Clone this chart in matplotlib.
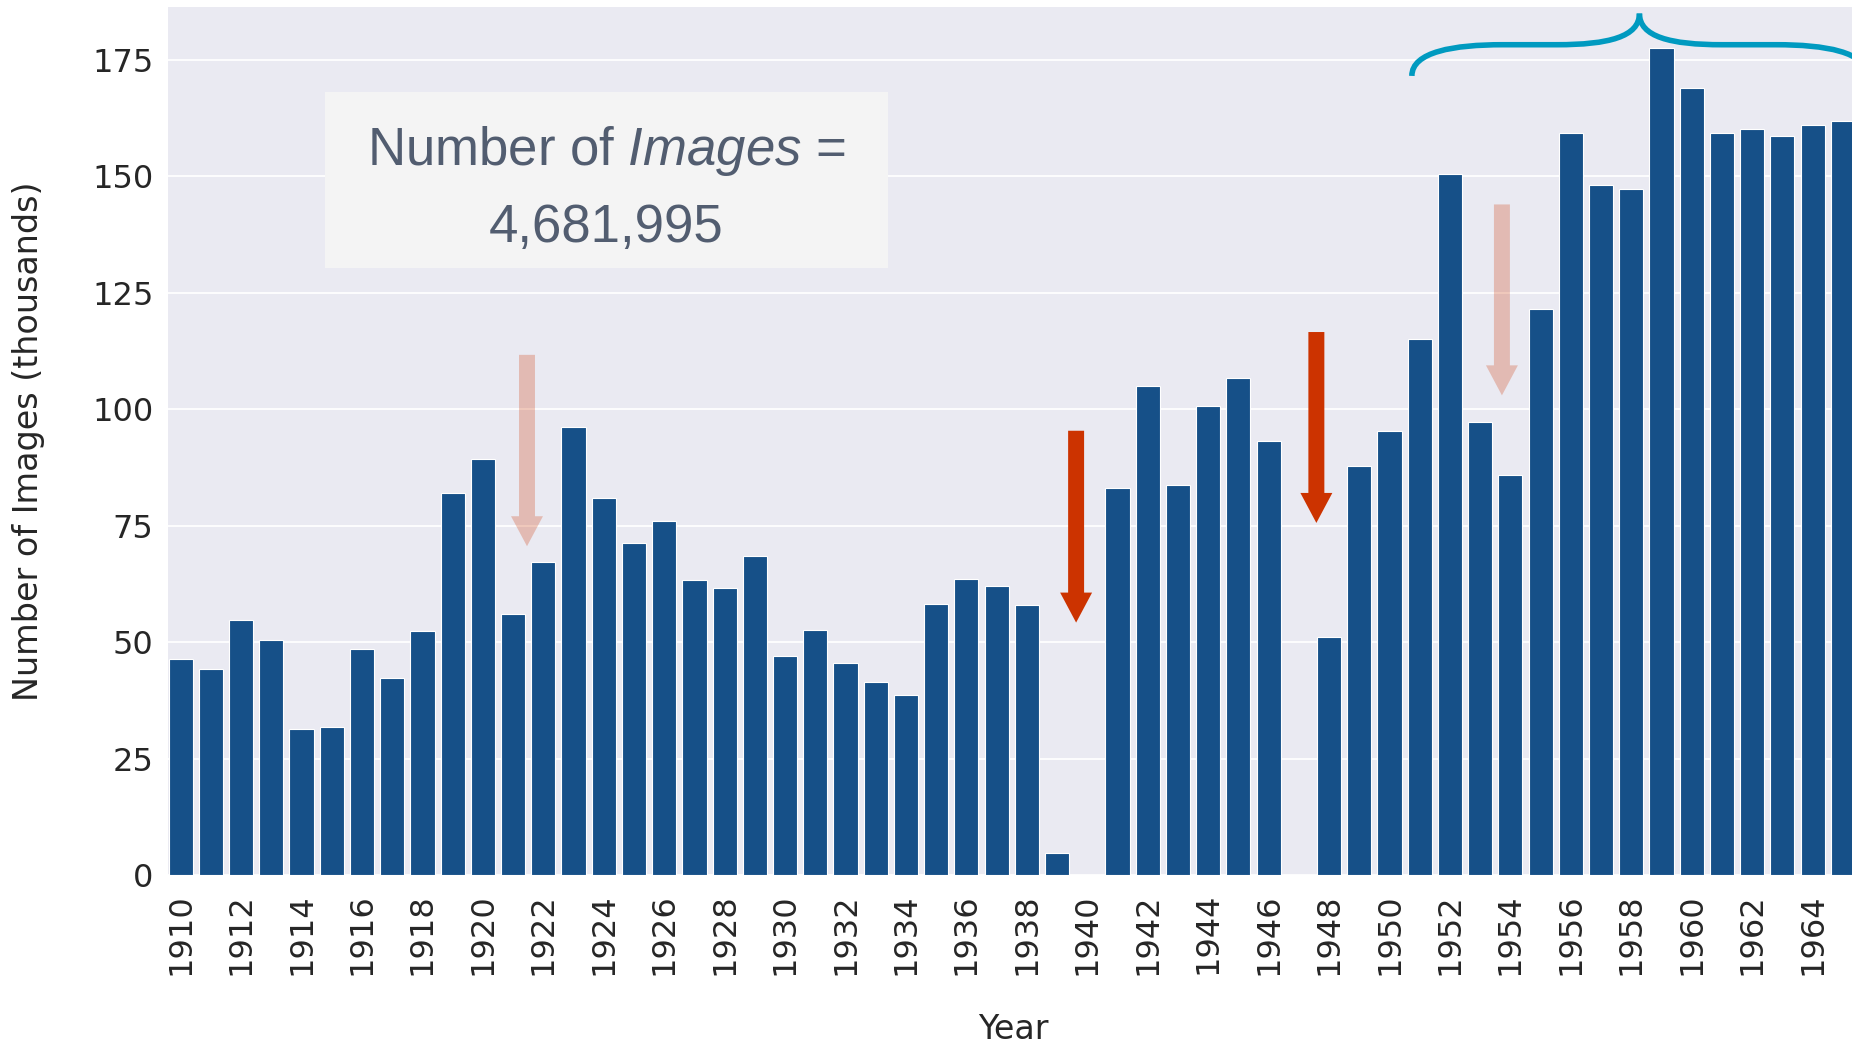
import numpy as np
import matplotlib.pyplot as plt
import seaborn as sns
from matplotlib.path import Path
from matplotlib.patches import PathPatch, Rectangle, FancyArrowPatch, ArrowStyle

# images per year, in thousands (1940 and 1947 have no data)
years = list(range(1910, 1966))
images_k = [46.3, 44.3, 54.7, 50.4, 31.4, 31.8, 48.6, 42.2, 52.3, 82.1,
            89.4, 56.0, 67.3, 96.2, 80.9, 71.4, 76.1, 63.3, 61.7, 68.4,
            47.1, 52.7, 45.5, 41.5, 38.6, 58.3, 63.5, 62.0, 57.9, 4.8,
            np.nan, 83.0, 105.1, 83.8, 100.7, 106.7, 93.1, np.nan, 51.2, 87.8,
            95.4, 115.1, 150.6, 97.3, 85.9, 121.5, 159.4, 148.1, 147.3, 177.6,
            169.1, 159.4, 160.3, 158.6, 161.0, 161.9]
y_ticks = [0, 25, 50, 75, 100, 125, 150, 175]
total_label = "4,681,995"

# arrows (bar-index x, start, tip) -- faint ones and strong ones
arrow_x = [11.46, 29.63, 37.58, 43.72]
arrow_top = [111.7, 95.4, 116.6, 144.0]
arrow_tip = [70.6, 54.2, 75.6, 103.0]
arrow_alpha = [0.26, 1.0, 1.0, 0.26]

BAR = "#165088"
RED = "#CC3300"
TEAL = "#009AC0"

sns.set_style("darkgrid")
plt.rcParams["font.family"] = ["DejaVu Sans"]
plt.rcParams["mathtext.fontset"] = "custom"
plt.rcParams["mathtext.rm"] = "Liberation Sans"
plt.rcParams["mathtext.it"] = "Liberation Sans:italic"

fig = plt.figure(figsize=(18.52, 10.45), dpi=100)
ax = fig.add_axes([0.0907, 0.1627, 0.9125, 0.8306])
ax.set_facecolor("#EAEAF2")

x = np.arange(len(years))
ax.bar(x, np.array(images_k, dtype=float), width=0.8, color=BAR,
       edgecolor="white", linewidth=0.8, zorder=2)

ax.set_xlim(-0.42, 55.5)
ax.set_ylim(0, 186.4)
ax.set_yticks(y_ticks)
ax.set_xticks(x[::2])
ax.set_xticklabels([str(y) for y in years[::2]], rotation=90)
ax.tick_params(axis="both", length=0, labelsize=23, colors=".15")
ax.tick_params(axis="x", pad=13)
ax.tick_params(axis="y", pad=10.5)
ax.grid(axis="y", color="white", linewidth=1.3)
ax.grid(axis="x", visible=False)
ax.set_axisbelow(True)
for s in ax.spines.values():
    s.set_visible(False)

ax.set_ylabel("Number of Images (thousands)", fontsize=24, color=".15")
ax.set_xlabel("Year", fontsize=24, color=".15")
ax.yaxis.set_label_coords(-0.0728, 0.5)
ax.xaxis.set_label_coords(0.5, -0.159)

# summary box
ax.add_patch(Rectangle((4.78, 130.3), 18.62, 37.8, facecolor="#F4F4F4",
                       edgecolor="none", zorder=3))
ax.text(14.09, 152.4, r"Number of $\mathit{Images}$ =", ha="center", va="baseline",
        fontsize=38, color="#525D70", family="Liberation Sans", zorder=4)
ax.text(14.09, 135.9, total_label, ha="center", va="baseline",
        fontsize=38, color="#525D70", family="Liberation Sans", zorder=4)

# arrows
style = ArrowStyle.Simple(head_length=21.6, head_width=23, tail_width=11.5)
for ax_x, top, tip, a in zip(arrow_x, arrow_top, arrow_tip, arrow_alpha):
    arr = FancyArrowPatch((ax_x, top), (ax_x, tip), arrowstyle=style,
                          mutation_scale=1, shrinkA=0, shrinkB=0,
                          facecolor=RED, edgecolor="none", linewidth=0,
                          alpha=a, zorder=5)
    ax.add_patch(arr)

# curly brace over the later years
bx0, bpeak, by0, bflat, btop = 40.74, 48.27, 171.6, 178.3, 185.0
hw = bpeak - bx0
def half(sign):
    xs = lambda d: bpeak - sign * (hw - d)
    return [(xs(0), by0), (xs(0), 176.8), (xs(1.4), bflat), (xs(3.0), bflat),
            (xs(4.8), bflat), (xs(6.5), bflat), (xs(hw), 180.0), (xs(hw), btop)]
codes = [Path.MOVETO, Path.CURVE4, Path.CURVE4, Path.CURVE4,
         Path.LINETO, Path.CURVE4, Path.CURVE4, Path.CURVE4]
for sgn in (1, -1):
    ax.add_patch(PathPatch(Path(half(sgn), codes), fill=False, edgecolor=TEAL,
                           linewidth=4, zorder=5))

fig.savefig("out.png", dpi=100)
